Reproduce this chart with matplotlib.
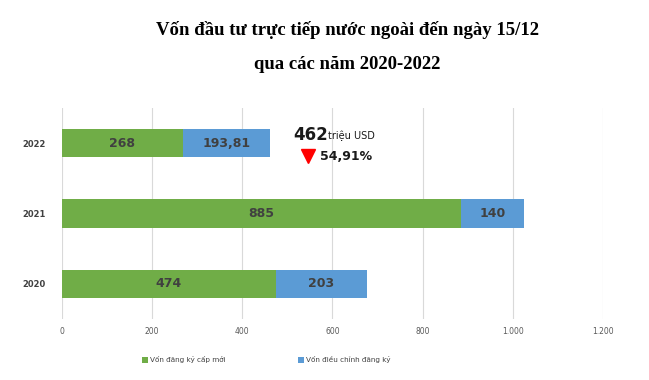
import matplotlib
matplotlib.use("Agg")
import matplotlib.pyplot as plt

years = ["2020", "2021", "2022"]
new_capital = [474, 885, 268]
adjusted_capital = [203, 140, 193.81]
new_labels = ["474", "885", "268"]
adj_labels = ["203", "140", "193,81"]
xticks = [0, 200, 400, 600, 800, 1000, 1200]
xtick_labels = ["0", "200", "400", "600", "800", "1.000", "1.200"]
series_names = ["Vốn đăng ký cấp mới", "Vốn điều chỉnh đăng ký"]
title = "Vốn đầu tư trực tiếp nước ngoài đến ngày 15/12\n\nqua các năm 2020-2022"

green = "#70AD47"
blue = "#5B9BD5"

fig = plt.figure(figsize=(6.49, 3.80), dpi=100)
ax = fig.add_axes([0.0955, 0.1605, 0.8335, 0.5555])

y = list(range(len(years)))
b1 = ax.barh(y, new_capital, height=0.4, color=green, label=series_names[0], zorder=3)
b2 = ax.barh(y, adjusted_capital, left=new_capital, height=0.4, color=blue, label=series_names[1], zorder=3)

for i in y:
    ax.text(new_capital[i] / 2, i, new_labels[i], ha="center", va="center",
            fontsize=9, fontweight="bold", color="#404040", zorder=4)
    ax.text(new_capital[i] + adjusted_capital[i] / 2, i, adj_labels[i], ha="center", va="center",
            fontsize=9, fontweight="bold", color="#404040", zorder=4)

ax.set_xlim(0, 1200)
ax.set_ylim(-0.5, 2.5)
ax.set_xticks(xticks)
ax.set_xticklabels(xtick_labels, fontsize=5.5, color="#595959")
ax.set_yticks(y)
ax.set_yticklabels(years, fontsize=6, color="#404040", fontweight="bold")
ax.tick_params(axis="both", length=0)
ax.tick_params(axis="x", pad=6)
ax.tick_params(axis="y", pad=12)
ax.grid(axis="x", color="#D9D9D9", linewidth=0.8, zorder=0)
for s in ax.spines.values():
    s.set_visible(False)

# annotation
ax.text(512, 2.12, "462", fontsize=12, fontweight="bold", color="#1a1a1a", va="center", ha="left")
ax.text(591, 2.1, "triệu USD", fontsize=7, color="#1a1a1a", va="center", ha="left")
ax.plot([545], [1.82], marker="v", markersize=10, color="#FF0000", linestyle="none", zorder=5)
ax.text(572, 1.81, "54,91%", fontsize=9, fontweight="bold", color="#1a1a1a", va="center", ha="left")

fig.text(0.535, 0.945, title, ha="center", va="top", fontsize=13.5, fontweight="bold",
         family="Liberation Serif", linespacing=1.0)

leg = fig.legend(handles=[b1, b2], labels=series_names, loc="center", bbox_to_anchor=(0.41, 0.053),
                 ncol=2, frameon=False, fontsize=5.2, handlelength=0.8, handleheight=0.8,
                 columnspacing=10, handletextpad=0.3)
for t in leg.get_texts():
    t.set_color("#404040")

fig.savefig("out.png", dpi=100)
